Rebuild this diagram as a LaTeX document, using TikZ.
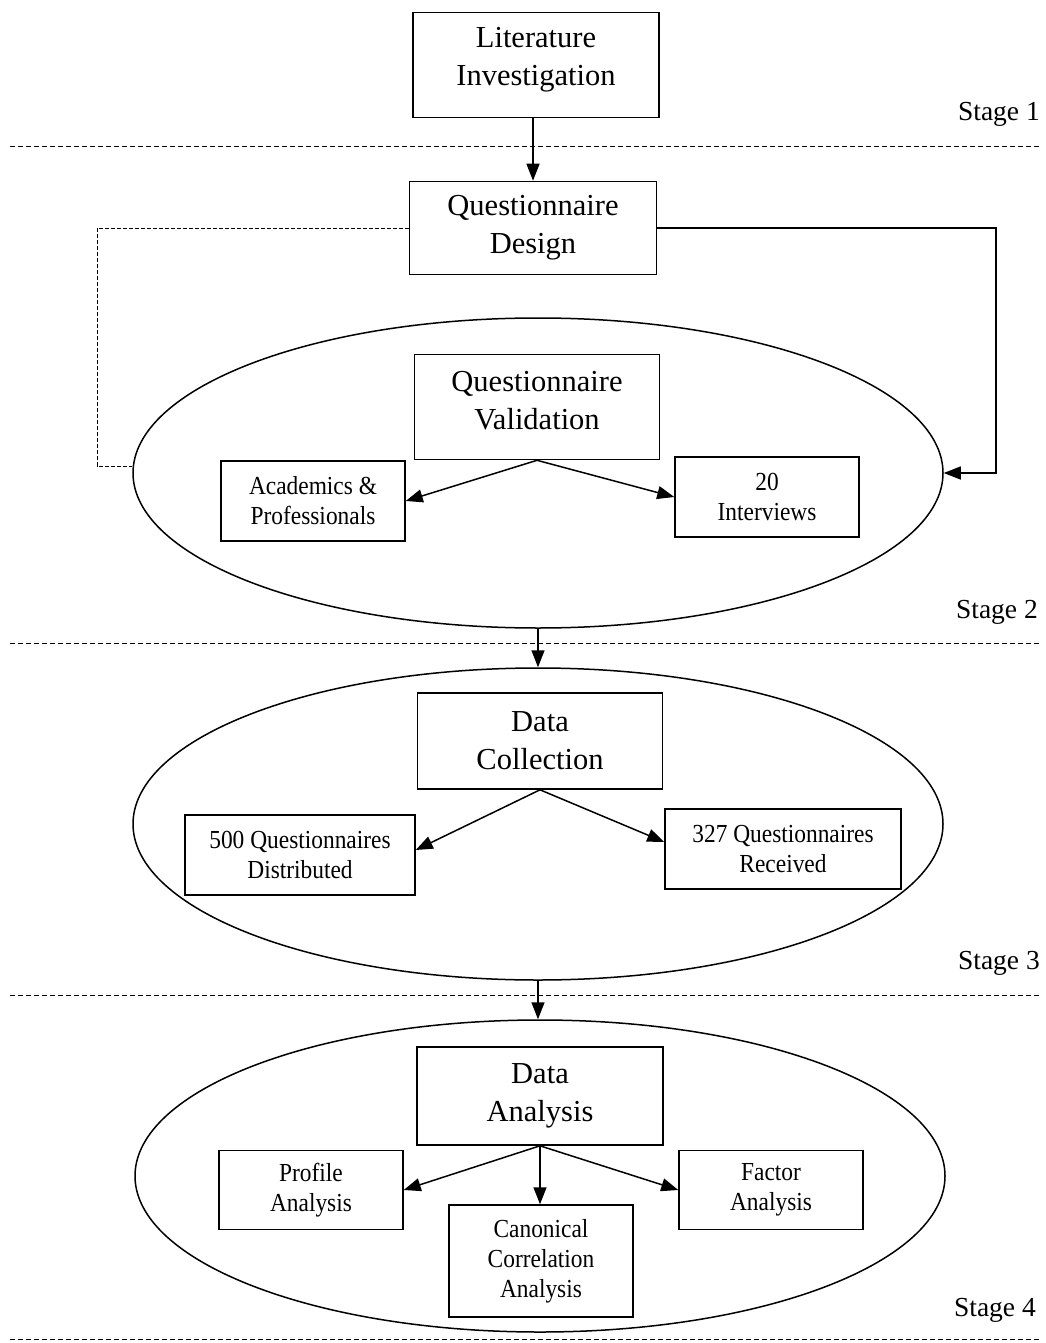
\documentclass[tikz,border=0pt]{standalone}
\usepackage{fontspec}
\setmainfont{Liberation Serif}
\newfontfamily\condserif[FakeStretch=0.9]{Liberation Serif}
\usetikzlibrary{shapes.geometric,arrows.meta}
\begin{document}
\begin{tikzpicture}[x=1pt,y=-1pt,
 bigbox/.style={draw,line width=1.6pt,rectangle,minimum width=246pt,minimum height=98pt,align=center,font=\fontsize{30.5}{38}\selectfont,inner sep=0pt},
 smallbox/.style={draw,line width=1.5pt,rectangle,minimum width=184pt,minimum height=80pt,align=center,font=\condserif\fontsize{26}{30}\selectfont,inner sep=0pt},
 oval/.style={draw,ellipse,line width=1.5pt,minimum width=810pt,minimum height=310pt,inner sep=0pt},
 conn/.style={line width=1.5pt,-{Triangle[length=17pt,width=13pt]}},
 stagelab/.style={anchor=east,font=\fontsize{27.5}{30}\selectfont,inner sep=0pt},
 sep/.style={dash pattern=on 5pt off 3pt,line width=1pt}]
\useasboundingbox (0,0) rectangle (1045,1343);

% separators
\draw[sep] (10,147) -- (1040,147);
\draw[sep] (10,643) -- (1040,643);
\draw[sep] (10,995) -- (1040,995);
\draw[sep] (10,1339) -- (1040,1339);

% stage labels
\node[stagelab] (s1) at (1040,114) {Stage 1};
\node[stagelab] (s2) at (1038,612) {Stage 2};
\node[stagelab] (s3) at (1040,963) {Stage 3};
\node[stagelab] (s4) at (1036,1310) {Stage 4};

% ellipses
\node[oval] (e1) at (538,473) {};
\node[oval,minimum height=312pt] (e2) at (538,824) {};
\node[oval,minimum height=312pt] (e3) at (540,1176) {};

% boxes
\node[bigbox,minimum height=105pt,text depth=17pt] (lit) at (536,65) {Literature\\Investigation};
\node[bigbox,minimum width=247pt,minimum height=93pt] (qd) at (533,228) {Questionnaire\\Design};
\node[bigbox,minimum width=245pt,minimum height=105pt,text depth=14pt] (qv) at (537,407) {Questionnaire\\Validation};
\node[smallbox] (acad) at (313,501) {Academics \&\\Professionals};
\node[smallbox] (intv) at (767,497) {20\\Interviews};

\node[bigbox,minimum width=245pt,minimum height=96pt] (dc) at (540,741) {Data\\Collection};
\node[smallbox,minimum width=230pt] (q500) at (300,855) {500 Questionnaires\\Distributed};
\node[smallbox,minimum width=236pt] (q327) at (783,849) {327 Questionnaires\\Received};

\node[bigbox] (da) at (540,1096) {Data\\Analysis};
\node[smallbox,minimum height=79pt] (prof) at (311,1190) {Profile\\Analysis};
\node[smallbox,minimum height=112pt] (canon) at (541,1261) {Canonical\\Correlation\\Analysis};
\node[smallbox,minimum height=79pt] (fact) at (771,1190) {Factor\\Analysis};

% coordinates for bends
\coordinate (dl) at (97,466);
\coordinate (dr) at (996,473);

% connectors
\draw[conn] (qd.north |- lit.south) -- (qd.north);
\draw[line width=1pt,dash pattern=on 4pt off 2pt] (qd.west) -| (dl) -- (dl -| e1.west);
\draw[conn] (qd.east) -| (dr) -- (e1.east);
\draw[conn] (qv.south) -- (acad.east);
\draw[conn] (qv.south) -- (intv.west);
\draw[conn] (e1.south) -- (e1.south |- e2.north);
\draw[conn] (dc.south) -- ([yshift=5pt]q500.east);
\draw[conn] (dc.south) -- ([yshift=7pt]q327.west);
\draw[conn] (e2.south) -- (e2.south |- e3.north);
\draw[conn] (da.south) -- (prof.east);
\draw[conn] (da.south) -- (da.south |- canon.north);
\draw[conn] (da.south) -- (fact.west);
\end{tikzpicture}
\end{document}
